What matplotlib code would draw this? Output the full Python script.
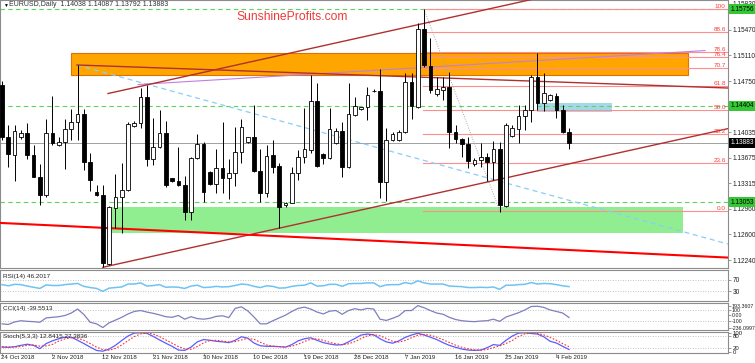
import matplotlib
matplotlib.use("Agg")
import matplotlib.pyplot as plt
from matplotlib.patches import Rectangle
from matplotlib.transforms import blended_transform_factory

plt.rcParams['font.family'] = ['Liberation Sans', 'DejaVu Sans']

# --- daily EURUSD bars (bar index 0 = 24 Oct 2018, broker shows Sunday bars) ---
opens = [1.14694, 1.13961, 1.13713, 1.13961, 1.14026, 1.13713, 1.13409, 1.13152, 1.14026, 1.13853,
         1.13899, 1.14073, 1.14176, 1.14288, 1.13619, 1.13198, 1.13152, 1.12185, 1.12966, 1.13120,
         1.13222, 1.14119, 1.14157, 1.14522, 1.13653, 1.13821, 1.14026, 1.13386, 1.13353, 1.13292,
         1.12918, 1.13667, 1.13867, 1.13479, 1.13306, 1.13526, 1.13386, 1.13456, 1.13759, 1.13899,
         1.13969, 1.13493, 1.13184, 1.13713, 1.13559, 1.13012, 1.13044, 1.13456, 1.13681, 1.13783,
         1.14474, 1.13727, 1.13667, 1.13877, 1.14054, 1.13540, 1.14274, 1.14354, 1.14382, 1.14617,
         1.14614, 1.13339, 1.13923, 1.13923, 1.14040, 1.14741, 1.14390, 1.15479, 1.14961, 1.14564,
         1.14624, 1.14662, 1.14040, 1.13933, 1.13867, 1.13587, 1.13643, 1.13689, 1.13619, 1.13793,
         1.12998, 1.13979, 1.14073, 1.14260, 1.14344, 1.14802, 1.14446, 1.14484, 1.14540, 1.14344,
         1.14038]
highs = [1.14750, 1.14133, 1.14133, 1.14063, 1.14162, 1.13853, 1.13587, 1.14213, 1.14540, 1.13965,
         1.14213, 1.14354, 1.14975, 1.14354, 1.13737, 1.13292, 1.13292, 1.12998, 1.13447, 1.13605,
         1.14180, 1.14190, 1.14648, 1.14694, 1.14227, 1.14344, 1.14194, 1.13397, 1.13821, 1.13418,
         1.13689, 1.14007, 1.13899, 1.13489, 1.13793, 1.14180, 1.13653, 1.14110, 1.14213, 1.13969,
         1.14414, 1.13793, 1.13853, 1.13923, 1.13600, 1.13054, 1.13549, 1.13783, 1.14368, 1.14834,
         1.14727, 1.13741, 1.14368, 1.14087, 1.14180, 1.14718, 1.14530, 1.14390, 1.14670, 1.14638,
         1.14914, 1.14087, 1.14035, 1.14063, 1.14858, 1.14858, 1.15564, 1.15756, 1.15353, 1.14811,
         1.14811, 1.14881, 1.14133, 1.13947, 1.13961, 1.13667, 1.13885, 1.13737, 1.13913, 1.13899,
         1.14157, 1.14133, 1.14414, 1.14414, 1.14834, 1.15139, 1.14858, 1.14575, 1.14578, 1.14414,
         1.14087]
lows = [1.13923, 1.13545, 1.13353, 1.13944, 1.13657, 1.13400, 1.13012, 1.13128, 1.13853, 1.13839,
        1.13512, 1.13923, 1.13923, 1.13503, 1.13212, 1.13145, 1.12139, 1.12171, 1.12685, 1.12615,
        1.13212, 1.14105, 1.14087, 1.13559, 1.13573, 1.13807, 1.13260, 1.13341, 1.13278, 1.12802,
        1.12802, 1.13653, 1.13058, 1.13292, 1.13176, 1.13176, 1.13092, 1.13278, 1.13597, 1.13888,
        1.13479, 1.13058, 1.13120, 1.13456, 1.12689, 1.12991, 1.13036, 1.13362, 1.13605, 1.13745,
        1.13540, 1.13587, 1.13653, 1.13867, 1.13409, 1.13526, 1.14260, 1.14344, 1.14204, 1.14603,
        1.13106, 1.13072, 1.13909, 1.13909, 1.14017, 1.14213, 1.14372, 1.14951, 1.14578, 1.14540,
        1.14484, 1.13807, 1.13877, 1.13689, 1.13526, 1.13559, 1.13549, 1.13353, 1.13362, 1.12914,
        1.12988, 1.13965, 1.13885, 1.14063, 1.14180, 1.14344, 1.14334, 1.14470, 1.14227, 1.14017,
        1.13792]
closes = [1.13965, 1.13723, 1.14054, 1.14026, 1.13713, 1.13409, 1.13152, 1.14026, 1.13877, 1.13899,
          1.14073, 1.14180, 1.14288, 1.13619, 1.13362, 1.13152, 1.12195, 1.12988, 1.13120, 1.13222,
          1.14148, 1.14166, 1.14522, 1.13653, 1.13829, 1.14026, 1.13292, 1.13353, 1.13292, 1.12918,
          1.13667, 1.13867, 1.13198, 1.13306, 1.13526, 1.13386, 1.13465, 1.13759, 1.14101, 1.13961,
          1.13493, 1.13184, 1.13699, 1.13549, 1.12988, 1.13044, 1.13456, 1.13681, 1.13793, 1.14474,
          1.13559, 1.13667, 1.14073, 1.14054, 1.13540, 1.14288, 1.14400, 1.14382, 1.14554, 1.14610,
          1.13339, 1.13923, 1.14007, 1.14040, 1.14741, 1.14400, 1.15479, 1.14975, 1.14624, 1.14638,
          1.14662, 1.14040, 1.13933, 1.13867, 1.13633, 1.13643, 1.13689, 1.13619, 1.13793, 1.13012,
          1.14133, 1.14087, 1.14260, 1.14344, 1.14802, 1.14446, 1.14578, 1.14554, 1.14344, 1.14040,
          1.13883]

date_labels = ['24 Oct 2018', '2 Nov 2018', '12 Nov 2018', '21 Nov 2018', '30 Nov 2018',
               '10 Dec 2018', '19 Dec 2018', '28 Dec 2018', '7 Jan 2019', '16 Jan 2019',
               '25 Jan 2019', '4 Feb 2019']
date_bars = [0, 8, 16, 24, 32, 40, 48, 56, 64, 72, 80, 88]

price_ticks = [1.15830, 1.15470, 1.15110, 1.14750, 1.14035, 1.13675, 1.13315, 1.12960, 1.12600, 1.12240]
marked_levels = [1.15756, 1.14404, 1.13053]
last_price = 1.13883

fib_levels = [0.0, 23.6, 38.2, 50.0, 61.8, 70.7, 76.4, 78.6, 88.6, 100.0]
fib_low, fib_high = 1.12930, 1.15756
fib_start_bar = 66.8

# zones: (first bar, last bar, low price, high price)
orange_zone = (10.9, 108.9, 1.14834, 1.15147)
green_zone = (17.25, 108.1, 1.12619, 1.12984)
blue_zone = (84.9, 96.8, 1.14320, 1.14446)

# trend lines: (bars, prices)
support_line = ([-0.32, 115.24], [1.12761, 1.12275])
channel_top = ([16.83, 100.0], [1.14575, 1.16206])
channel_bottom = ([16.0, 115.24], [1.12139, 1.14083])
resistance_line = ([11.9, 115.24], [1.14975, 1.14652])
purple_line = ([21.6, 111.6], [1.14701, 1.15177])
blue_dash_line = ([11.9, 115.24], [1.14975, 1.12465])
fib_diagonal = ([67, 79], [1.15756, 1.12930])

rsi = [53, 49, 54, 53, 48, 44, 40, 52, 50, 50, 53, 55, 57, 47, 43, 40, 30, 41, 43, 45,
       55, 55, 59, 48, 50, 53, 44, 45, 44, 40, 48, 51, 43, 44, 47, 45, 46, 50, 55, 53,
       47, 43, 49, 47, 41, 42, 47, 50, 51, 59, 48, 49, 54, 54, 47, 56, 57, 57, 59, 59,
       46, 52, 53, 53, 60, 56, 66, 59, 55, 55, 55, 48, 47, 46, 43, 43, 44, 43, 45, 37,
       51, 51, 53, 54, 60, 55, 57, 56, 53, 49, 46.2017]
cci = [-164, -176, -127, -103, -115, -121, -133, -48, -36, -24, 0, 48, 127, 18, -133, -164, -236.0997, -145, -91, -36,
       30, 79, 97, 67, 42, 12, -24, -36, 0, -73, -24, -61, -73, -55, -18, -6, -42, 139, 170, 91,
       -30, -164, -164, -103, -48, 6, 79, 139, 164, 127, 67, 30, 85, 97, 24, 97, 133, 109, 139, 127,
       -73, -97, -55, -6, 97, 97, 193.3607, 152, 97, 48, 24, -36, -79, -103, -115, -121, -109, -103, -73, -115,
       -30, 12, 55, 109, 176, 182, 158, 109, 79, 48, -39.5513]
stoch_k = [25, 24, 27, 34, 40, 34, 17, 43, 57, 68, 76, 76, 60, 43, 25, 8, 4, 15, 34, 59,
           82, 97, 99, 96, 80, 62, 45, 29, 10, 8, 25, 52, 64, 60, 55, 52, 48, 60, 78, 71,
           46, 32, 29, 29, 27, 25, 38, 57, 68, 73, 60, 48, 41, 36, 37, 52, 69, 87, 92, 88,
           68, 52, 45, 57, 75, 87, 96, 87, 76, 64, 48, 34, 24, 15, 10, 8, 10, 22, 38, 34,
           60, 82, 97, 99, 95, 92, 78, 55, 46, 29, 12.8415]
stoch_d = [28, 26, 25, 28, 34, 36, 30, 31, 39, 56, 67, 73, 71, 60, 43, 25, 12, 9, 18, 36,
           58, 79, 93, 97, 92, 79, 62, 45, 28, 16, 14, 28, 47, 59, 60, 56, 52, 53, 62, 70,
           65, 50, 36, 30, 28, 27, 30, 40, 54, 66, 67, 60, 50, 42, 38, 42, 53, 69, 83, 89,
           83, 69, 55, 51, 59, 73, 86, 90, 86, 76, 63, 49, 35, 24, 16, 11, 9, 13, 23, 31,
           44, 59, 80, 93, 97, 95, 88, 75, 60, 43, 27.3836]

W, H = 755, 363
X0, X1 = -0.32, 115.24
fig = plt.figure(figsize=(W / 100, H / 100), dpi=100, facecolor='white')


def panel(top, bottom):
    return fig.add_axes([0, 1 - bottom / H, 728 / W, (bottom - top) / H])


ax = panel(0, 268)
ax_rsi = panel(270, 301)
ax_cci = panel(303, 330)
ax_sto = panel(332, 352.5)

for a in (ax, ax_rsi, ax_cci, ax_sto):
    a.set_xlim(X0, X1)
    for s in a.spines.values():
        s.set_color('#8c8c8c')
        s.set_linewidth(0.8)
    a.tick_params(axis='x', bottom=False, labelbottom=False)
    a.yaxis.tick_right()
    a.tick_params(axis='y', length=2, width=0.5, color='#707070', labelsize=4.7, pad=1.5,
                  labelcolor='#202020')

# ---------------- main price panel ----------------
ax.set_ylim(1.12129, 1.15886)
ax.set_yticks(price_ticks)
ax.set_yticklabels([f'{p:.5f}' for p in price_ticks])

z = orange_zone
ax.add_patch(Rectangle((z[0], z[2]), z[1] - z[0], z[3] - z[2], facecolor='#ffa500',
                       edgecolor='#e07000', lw=0.8, zorder=1))
z = green_zone
ax.add_patch(Rectangle((z[0], z[2]), z[1] - z[0], z[3] - z[2], facecolor='#90ee90',
                       edgecolor='none', zorder=1))
z = blue_zone
ax.add_patch(Rectangle((z[0], z[2]), z[1] - z[0], z[3] - z[2], facecolor='#a6d9e8',
                       edgecolor='none', zorder=1))

for lvl in marked_levels:
    ax.axhline(lvl, color='#5ad65a', lw=0.8, dashes=(4, 3), zorder=2)
ax.axhline(last_price, color='#a0a0a0', lw=0.7, zorder=2)

for f in fib_levels:
    p = fib_low + (fib_high - fib_low) * f / 100
    ax.plot([fib_start_bar, X1], [p, p], color='#ff8f8f', lw=0.8, zorder=2)
    ax.text(114.9, p, f'{f:.1f}' if f < 100 else '100', color='#ff3b3b', fontsize=4.6,
            ha='right', va='bottom', zorder=6)
ax.plot(*fib_diagonal, color='#a8a8a8', lw=0.7, ls=(0, (1, 1.5)), zorder=2)

ax.plot(*blue_dash_line, color='#87cefa', lw=0.9, dashes=(4, 3), zorder=3)
ax.plot(*purple_line, color='#c27ddf', lw=0.8, zorder=3)
ax.plot(*resistance_line, color='#b03030', lw=1.0, zorder=3)
ax.plot(*channel_top, color='#b03030', lw=1.0, zorder=3)
ax.plot(*channel_bottom, color='#b03030', lw=1.0, zorder=3)
ax.plot(*support_line, color='#ff0000', lw=1.5, zorder=3)

for i, (o, h, l, c) in enumerate(zip(opens, highs, lows, closes)):
    ax.vlines(i, l, h, color='black', lw=0.7, zorder=4)
    bottom, top = min(o, c), max(o, c)
    fc = 'white' if c > o else 'black'
    ax.add_patch(Rectangle((i - 0.29, bottom), 0.58, max(top - bottom, 0.00003),
                           facecolor=fc, edgecolor='black', lw=0.6, zorder=5))

tr = blended_transform_factory(fig.transFigure, ax.transData)
for lvl in marked_levels:
    fig.text(730.5 / W, lvl, f'{lvl:.5f}', transform=tr, fontsize=4.7, va='center', ha='left',
             color='black', zorder=10,
             bbox=dict(boxstyle='square,pad=0.2', fc='#34c934', ec='none'))
fig.text(730.5 / W, last_price, f'{last_price:.5f}', transform=tr, fontsize=4.7, va='center',
         ha='left', color='white', zorder=10,
         bbox=dict(boxstyle='square,pad=0.2', fc='black', ec='none'))

fig.text(3 / W, 1 - 5 / H, '\u25bc', fontsize=3.5, va='center', ha='left', color='black')
fig.text(9 / W, 1 - 5 / H, 'EURUSD,Daily  1.14038 1.14087 1.13792 1.13883', fontsize=5,
         va='center', ha='left', color='#303030')
fig.text(292 / W, 1 - 17 / H, 'SunshineProfits.com', fontsize=8.7, va='center', ha='center',
         color='#f03a3a')

# ---------------- RSI ----------------
bars = list(range(len(rsi)))
ax_rsi.set_ylim(-3, 103)
ax_rsi.set_yticks([70, 30])
ax_rsi.set_yticklabels(['70', '30'])
for lvl in (70, 30):
    ax_rsi.axhline(lvl, color='#b0b0b0', lw=0.6, ls=(0, (1, 2)))
ax_rsi.plot(bars, rsi, color='#6fc3f2', lw=1.1)
ax_rsi.text(0.004, 0.80, 'RSI(14) 46.2017', transform=ax_rsi.transAxes, fontsize=4.6,
            color='#202020', va='center')

# ---------------- CCI ----------------
ax_cci.set_ylim(-285, 245)
cci_ticks = [193.3607, 100, 0, -100, -236.0997]
ax_cci.set_yticks(cci_ticks)
ax_cci.set_yticklabels(['193.3607', '100', '0.00', '-100', '-236.0997'])
ax_cci.tick_params(axis='y', labelsize=3.8, pad=0.6)
for lvl in (100, -100):
    ax_cci.axhline(lvl, color='#b0b0b0', lw=0.6, ls=(0, (1, 2)))
ax_cci.plot(bars, cci, color='#7f7fbf', lw=0.9)
ax_cci.text(0.004, 0.80, 'CCI(14) -39.5513', transform=ax_cci.transAxes, fontsize=4.6,
            color='#202020', va='center')

# ---------------- Stochastic ----------------
ax_sto.set_ylim(-2.6, 102.6)
ax_sto.set_yticks([100, 80, 20, 0])
ax_sto.set_yticklabels(['100', '80', '20', '0'])
ax_sto.tick_params(axis='y', labelsize=4.3)
for lvl in (80, 20):
    ax_sto.axhline(lvl, color='#b0b0b0', lw=0.6, ls=(0, (1, 2)))
ax_sto.plot(bars, stoch_k, color='#5c5cff', lw=0.9)
ax_sto.plot(bars, stoch_d, color='#ff3030', lw=0.8, ls=(0, (1.5, 1.5)))
ax_sto.text(0.004, 0.78, 'Stoch(5,3,3) 12.8415 27.3836', transform=ax_sto.transAxes,
            fontsize=4.6, color='#202020', va='center')

ax_sto.set_xticks(date_bars)
ax_sto.tick_params(axis='x', bottom=True, length=2, width=0.5, color='#707070')
trx = blended_transform_factory(ax_sto.transData, fig.transFigure)
for b, lab in zip(date_bars, date_labels):
    fig.text(b - 0.1, 1 - 357.5 / H, lab, transform=trx, fontsize=4.4, ha='left',
             va='center', color='#202020')

fig.savefig('out.png', dpi=100, facecolor='white')
